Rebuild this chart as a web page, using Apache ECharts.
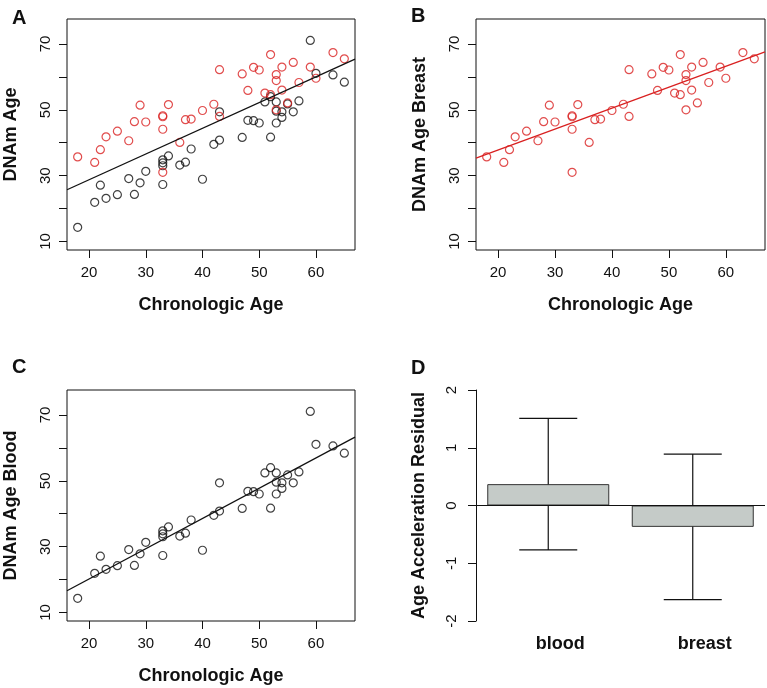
<!DOCTYPE html>
<html>
<head>
<meta charset="utf-8">
<script src="https://cdn.jsdelivr.net/npm/echarts@6/dist/echarts.min.js"></script>
<style>
  html, body { margin: 0; padding: 0; background: #fff; }
  #chart { width: 767px; height: 688px; }
</style>
</head>
<body>
<div id="chart"></div>
<script>
// chronologic ages, one per subject (same subjects in blood and breast)
const ages = [18, 21, 22, 23, 25, 27, 28, 29, 30, 33, 33, 33, 33, 34, 36, 37, 38, 40, 42, 43,
  43, 47, 48, 49, 50, 51, 52, 52, 53, 53, 53, 54, 54, 55, 56, 57, 59, 60, 63, 65]
const bloodAge = [14.3, 21.9, 27.1, 23.1, 24.2, 29.1, 24.3, 27.8, 31.3, 27.3, 33.0, 33.9, 34.8, 36.0, 33.2, 34.1, 38.1, 28.9, 39.5, 40.8,
  49.4, 41.6, 46.8, 46.7, 46.0, 52.4, 41.7, 54.0, 46.0, 49.6, 52.4, 47.7, 49.4, 51.8, 49.4, 52.7, 71.1, 61.1, 60.6, 58.4]
const breastAge = [35.7, 34.0, 37.9, 41.8, 43.5, 40.6, 46.4, 51.4, 46.3, 31.0, 44.1, 47.9, 48.2, 51.6, 40.1, 47.0, 47.2, 49.8, 51.7, 48.0,
  62.2, 60.9, 55.9, 62.9, 62.1, 55.1, 54.6, 66.8, 50.0, 58.9, 60.7, 56.0, 63.0, 52.1, 64.4, 58.3, 63.0, 59.6, 67.4, 65.5]

// fitted lines, end points at the plot edges
const fitAll = [[16.12, 25.7], [66.88, 65.4]]
const fitBreast = [[16.12, 35.3], [66.88, 67.6]]
const fitBlood = [[16.12, 16.6], [66.88, 63.3]]

const xTicks = [20, 30, 40, 50, 60]
const yTicks = [10, 20, 30, 40, 50, 60, 70]
const yLabels = [10, 30, 50, 70]

// panel D
const tissues = ['blood', 'breast']
const residMean = [0.37, -0.37]
const residLow = [-0.77, -1.63]
const residHigh = [1.51, 0.89]
const residTicks = [-2, -1, 0, 1, 2]

const FONT = 'Liberation Sans, Arial, Helvetica, sans-serif'
const INK = '#111'
const RED = '#d92020'

const pairs = (xs, ys) => xs.map((x, i) => [x, ys[i]])

const chart = echarts.init(document.getElementById('chart'), null, { renderer: 'canvas' })

const scatterX = (gridIndex) => ({
  type: 'value',
  gridIndex,
  min: 16.12,
  max: 66.88,
  name: 'Chronologic Age',
  nameLocation: 'middle',
  nameGap: 46,
  nameTextStyle: { fontFamily: FONT, fontSize: 18, fontWeight: 'bold', color: INK },
  axisLine: { show: false },
  axisTick: { show: true, length: 8, customValues: xTicks, lineStyle: { color: INK } },
  axisLabel: { customValues: xTicks, margin: 15, fontFamily: FONT, fontSize: 15, color: INK },
  splitLine: { show: false },
})

const scatterY = (gridIndex, name) => ({
  type: 'value',
  gridIndex,
  min: 7.4,
  max: 77.6,
  name,
  nameLocation: 'middle',
  nameGap: 47,
  nameTextStyle: { fontFamily: FONT, fontSize: 18, fontWeight: 'bold', color: INK },
  axisLine: { show: false },
  axisTick: { show: true, length: 8, customValues: yTicks, lineStyle: { color: INK } },
  axisLabel: { customValues: yLabels, rotate: 90, margin: 14, fontFamily: FONT, fontSize: 15, color: INK },
  splitLine: { show: false },
})

const dots = (name, idx, data, color) => ({
  name,
  type: 'scatter',
  xAxisIndex: idx,
  yAxisIndex: idx,
  data,
  symbol: 'circle',
  symbolSize: 8,
  itemStyle: { color: 'rgba(0,0,0,0)', borderColor: color, borderWidth: 1.2 },
  silent: true,
})

const fit = (idx, data, color) => ({
  type: 'line',
  xAxisIndex: idx,
  yAxisIndex: idx,
  data,
  symbol: 'none',
  lineStyle: { color, width: 1.3 },
  silent: true,
})

const letter = (text, left, top) => ({
  text, left, top,
  textStyle: { fontFamily: FONT, fontSize: 20, fontWeight: 'bold', color: INK },
})

const option = {
  animation: false,
  backgroundColor: '#fff',
  title: [letter('A', 7, 3), letter('B', 406, 1), letter('C', 7, 352), letter('D', 406, 353)],
  grid: [
    { left: 67, top: 19, width: 288, height: 231, show: true, borderColor: INK, borderWidth: 1 },
    { left: 476, top: 19, width: 289, height: 231, show: true, borderColor: INK, borderWidth: 1 },
    { left: 67, top: 390, width: 288, height: 231, show: true, borderColor: INK, borderWidth: 1 },
    { left: 476, top: 390, width: 289, height: 231 },
  ],
  xAxis: [
    scatterX(0),
    scatterX(1),
    scatterX(2),
    {
      type: 'category',
      gridIndex: 3,
      data: tissues,
      axisLine: { show: false },
      axisTick: { show: false },
      axisLabel: { margin: 14, padding: [0, 0, 0, 24], fontFamily: FONT, fontSize: 18, fontWeight: 'bold', color: INK },
    },
  ],
  yAxis: [
    scatterY(0, 'DNAm Age'),
    scatterY(1, 'DNAm Age Breast'),
    scatterY(2, 'DNAm Age Blood'),
    {
      type: 'value',
      gridIndex: 3,
      min: -2,
      max: 2,
      name: 'Age Acceleration Residual',
      nameLocation: 'middle',
      nameGap: 48,
      nameTextStyle: { fontFamily: FONT, fontSize: 18, fontWeight: 'bold', color: INK },
      axisLine: { show: true, lineStyle: { color: INK } },
      axisTick: { show: true, length: 8, customValues: residTicks, lineStyle: { color: INK } },
      axisLabel: { customValues: residTicks, rotate: 90, margin: 17, fontFamily: FONT, fontSize: 15, color: INK },
      splitLine: { show: false },
    },
  ],
  series: [
    dots('blood', 0, pairs(ages, bloodAge), INK),
    dots('breast', 0, pairs(ages, breastAge), RED),
    fit(0, fitAll, INK),
    dots('breast', 1, pairs(ages, breastAge), RED),
    fit(1, fitBreast, RED),
    dots('blood', 2, pairs(ages, bloodAge), INK),
    fit(2, fitBlood, INK),
    {
      type: 'bar',
      xAxisIndex: 3,
      yAxisIndex: 3,
      data: residMean,
      barWidth: 122,
      itemStyle: { color: '#c5cbc8', borderColor: '#333', borderWidth: 1 },
      silent: true,
      markLine: {
        silent: true,
        symbol: 'none',
        label: { show: false },
        lineStyle: { color: INK, type: 'solid', width: 1 },
        data: [{ yAxis: 0 }],
      },
    },
    {
      type: 'custom',
      xAxisIndex: 3,
      yAxisIndex: 3,
      data: tissues.map((t, i) => [i, residLow[i], residHigh[i]]),
      silent: true,
      renderItem: function (params, api) {
        const hi = api.coord([api.value(0), api.value(2)])
        const lo = api.coord([api.value(0), api.value(1)])
        const half = 29
        const style = { stroke: INK, lineWidth: 1.2 }
        return {
          type: 'group',
          children: [
            { type: 'line', shape: { x1: hi[0], y1: hi[1], x2: lo[0], y2: lo[1] }, style },
            { type: 'line', shape: { x1: hi[0] - half, y1: hi[1], x2: hi[0] + half, y2: hi[1] }, style },
            { type: 'line', shape: { x1: lo[0] - half, y1: lo[1], x2: lo[0] + half, y2: lo[1] }, style },
          ],
        }
      },
    },
  ],
}

chart.setOption(option)
</script>
</body>
</html>
